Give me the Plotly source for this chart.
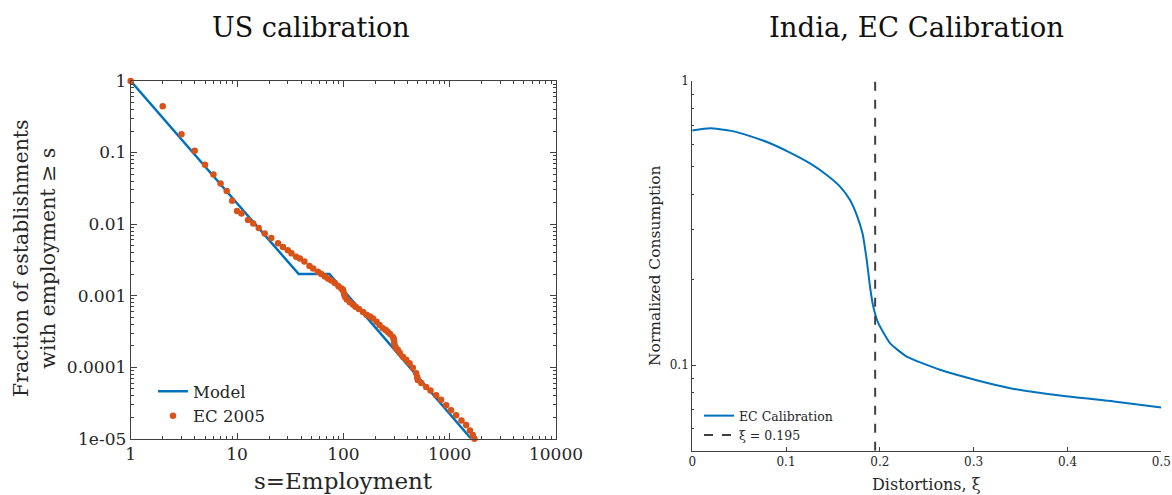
import plotly.graph_objects as go

# ---------------- Data ----------------
model_s = [1, 38, 74, 1590]
model_frac = [1, 0.002, 0.002, 1e-5]

ec_s = [1, 2, 3, 4, 5, 6, 7, 8, 9, 10, 11, 12.7, 14.2, 16, 18.2, 21, 24.3, 27, 30, 32.5,
        36, 39, 43, 48, 52, 57.7, 62, 67, 72, 77, 83, 90, 95.7, 99, 100, 102, 104, 108,
        115, 123, 130, 140, 153, 165, 178, 190, 205, 219, 235, 250, 262, 275, 292, 298,
        300, 302, 310, 325, 340, 363, 390, 419, 450, 484, 495, 501, 540, 601, 660, 746,
        830, 927, 1030, 1151, 1290, 1429, 1550, 1650, 1710]
ec_frac = [1, 0.443, 0.18, 0.106, 0.0676, 0.0495, 0.037, 0.029, 0.0212, 0.0152, 0.0141,
           0.0114, 0.0102, 0.0088, 0.0074, 0.0064, 0.0054, 0.0048, 0.0043, 0.0039, 0.0035,
           0.0033, 0.0030, 0.0026, 0.0024, 0.00215, 0.0020, 0.00185, 0.00172, 0.00163,
           0.00150, 0.00135, 0.00126, 0.00122, 0.00115, 0.00104, 0.00096, 0.00088, 0.00081,
           0.00075, 0.00070, 0.00065, 0.00059, 0.00054, 0.00051, 0.00048, 0.00043, 0.00039,
           0.00035, 0.00033, 0.00031, 0.00029, 0.000265, 0.00025, 0.00023, 0.00021, 0.00019,
           0.000175, 0.000158, 0.000140, 0.000127, 0.000113, 0.000098, 0.000082, 0.000072,
           0.000066, 0.000060, 0.000053, 0.000047, 0.0000406, 0.0000350, 0.0000294,
           0.0000250, 0.0000213, 0.0000180, 0.0000155, 0.0000130, 0.0000113, 0.0000100]

xi = [0, 0.019, 0.0403, 0.0616, 0.0829, 0.1042, 0.1256, 0.1434, 0.1576, 0.1682, 0.1753,
      0.1815, 0.186, 0.1895, 0.193, 0.1984, 0.2108, 0.2286, 0.2641, 0.3022, 0.339, 0.3943,
      0.4495, 0.5]
consumption = [0.669, 0.682, 0.669, 0.640, 0.604, 0.560, 0.513, 0.467, 0.425, 0.381, 0.338,
               0.291, 0.2346, 0.189, 0.1607, 0.1405, 0.1195, 0.1072, 0.0963, 0.0887, 0.083,
               0.078, 0.0745, 0.071]
xi_cut = 0.195

left_xticks = [1, 10, 100, 1000, 10000]
left_xlabels = ["1", "10", "100", "1000", "10000"]
left_yticks = [1, 0.1, 0.01, 0.001, 0.0001, 1e-5]
left_ylabels = ["1", "0.1", "0.01", "0.001", "0.0001", "1e-05"]
right_xticks = [0, 0.1, 0.2, 0.3, 0.4, 0.5]
right_xlabels = ["0", "0.1", "0.2", "0.3", "0.4", "0.5"]
right_yticks = [1, 0.1]
right_ylabels = ["1", "0.1"]

# ---------------- Style ----------------
FONT = "DejaVu Serif"
BLUE = "#0072BD"
ORANGE = "#D95319"
AX = "#404040"
TXT = "#262626"
W, H = 1172, 495

def px_x(p):
    return p / W

def px_y(p):
    return (H - p) / H

fig = go.Figure()

fig.add_trace(go.Scatter(x=model_s, y=model_frac, mode="lines", name="Model",
                         line=dict(color=BLUE, width=2.5), xaxis="x", yaxis="y",
                         legend="legend", cliponaxis=False))
fig.add_trace(go.Scatter(x=ec_s, y=ec_frac, mode="markers", name="EC 2005",
                         marker=dict(color=ORANGE, size=6.5), xaxis="x", yaxis="y",
                         legend="legend", cliponaxis=False))
fig.add_trace(go.Scatter(x=xi, y=consumption, mode="lines", name="EC Calibration",
                         line=dict(color=BLUE, width=2, shape="spline", smoothing=0.5),
                         xaxis="x2", yaxis="y2", legend="legend2"))
fig.add_trace(go.Scatter(x=[xi_cut, xi_cut], y=[0.05, 1], mode="lines",
                         name="\u03be = 0.195",
                         line=dict(color=AX, width=2, dash="dash"),
                         xaxis="x2", yaxis="y2", legend="legend2"))

minor_log = dict(ticks="inside", ticklen=3, tickcolor=AX, dtick="D1", showgrid=False)

fig.update_layout(
    width=W, height=H,
    margin=dict(l=0, r=0, t=0, b=0, autoexpand=False),
    paper_bgcolor="white", plot_bgcolor="white",
    font=dict(family=FONT, color=TXT),
    xaxis=dict(type="log", domain=[px_x(130.7), px_x(556)], range=[0, 4], automargin=False,
               tickvals=left_xticks, ticktext=left_xlabels, ticks="inside", ticklen=6,
               tickcolor=AX, showline=True, linecolor=AX, linewidth=1, mirror="allticks",
               showgrid=False, zeroline=False, minor=minor_log,
               tickfont=dict(size=17, family=FONT, color=TXT), anchor="y"),
    yaxis=dict(type="log", domain=[px_y(438.7), px_y(81)], range=[-5, 0], automargin=False,
               tickvals=left_yticks, ticktext=left_ylabels, ticks="inside", ticklen=6,
               tickcolor=AX, showline=True, linecolor=AX, linewidth=1, mirror="allticks",
               showgrid=False, zeroline=False, minor=minor_log,
               tickfont=dict(size=17, family=FONT, color=TXT), anchor="x"),
    xaxis2=dict(domain=[px_x(692.2), px_x(1161.3)], range=[0, 0.5], automargin=False,
                tickvals=right_xticks, ticktext=right_xlabels, ticks="inside", ticklen=4,
                tickcolor=AX, showline=True, linecolor=AX, linewidth=1, mirror=False,
                showgrid=False, zeroline=False,
                tickfont=dict(size=12, family=FONT, color=TXT), anchor="y2"),
    yaxis2=dict(type="log", domain=[px_y(450.7), px_y(81)], range=[-1.30103, 0],
                automargin=False,
                tickvals=right_yticks, ticktext=right_ylabels, ticks="inside", ticklen=4,
                tickcolor=AX, showline=True, linecolor=AX, linewidth=1, mirror=False,
                showgrid=False, zeroline=False,
                minor=dict(ticks="inside", ticklen=2, tickcolor=AX, dtick="D1", showgrid=False),
                tickfont=dict(size=12, family=FONT, color=TXT), anchor="x2"),
    legend=dict(x=px_x(153), y=px_y(374), xanchor="left", yanchor="top",
                bgcolor="rgba(0,0,0,0)", font=dict(size=16.5, family=FONT, color=TXT),
                tracegroupgap=0, itemwidth=30),
    legend2=dict(x=px_x(699), y=px_y(401), xanchor="left", yanchor="top",
                 bgcolor="rgba(0,0,0,0)", font=dict(size=12.5, family=FONT, color=TXT),
                 tracegroupgap=0, itemwidth=30),
    annotations=[
        dict(text="US calibration", x=px_x(311), y=px_y(27), xref="paper", yref="paper",
             showarrow=False, font=dict(size=27, family=FONT, color="#111111"),
             xanchor="center", yanchor="middle"),
        dict(text="India, EC Calibration", x=px_x(916), y=px_y(27), xref="paper", yref="paper",
             showarrow=False, font=dict(size=27.5, family=FONT, color="#111111"),
             xanchor="center", yanchor="middle"),
        dict(text="Fraction of establishments<br>with employment \u2265 s",
             x=px_x(34), y=px_y(258), xref="paper", yref="paper", textangle=-90,
             showarrow=False, font=dict(size=20.5, family=FONT, color=TXT),
             xanchor="center", yanchor="middle"),
        dict(text="s=Employment", x=px_x(343), y=px_y(481), xref="paper", yref="paper",
             showarrow=False, font=dict(size=23, family=FONT, color=TXT),
             xanchor="center", yanchor="middle"),
        dict(text="Normalized Consumption", x=px_x(655), y=px_y(266), xref="paper",
             yref="paper", textangle=-90, showarrow=False,
             font=dict(size=15.5, family=FONT, color=TXT),
             xanchor="center", yanchor="middle"),
        dict(text="Distortions, \u03be", x=px_x(926), y=px_y(484), xref="paper", yref="paper",
             showarrow=False, font=dict(size=16, family=FONT, color=TXT),
             xanchor="center", yanchor="middle"),
    ],
)

fig.write_html("out.html")
